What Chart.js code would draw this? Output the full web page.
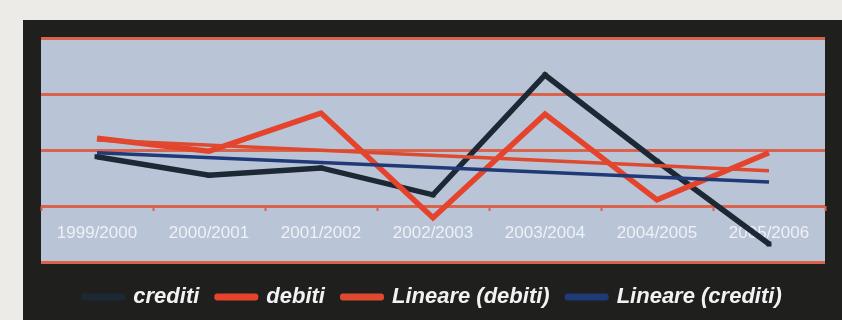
<!DOCTYPE html>
<html>
<head>
<meta charset="utf-8">
<script src="https://cdn.jsdelivr.net/npm/chart.js@4/dist/chart.umd.min.js"></script>
<style>
  html, body { margin: 0; padding: 0; background: #ecebe7; }
  canvas { display: block; }
</style>
</head>
<body>
<canvas id="grafico" width="842" height="320"></canvas>
<script>
// Stagioni e valori delle due serie
const stagioni = ['1999/2000', '2000/2001', '2001/2002', '2002/2003', '2003/2004', '2004/2005', '2005/2006'];
const crediti = [8.8, 5.5, 6.8, 2.0, 23.4, 8.0, -6.8];
const debiti = [12.1, 9.8, 16.6, -2.1, 16.4, 1.1, 9.5];
// Linee di tendenza: solo gli estremi, il tratto le unisce
const lineareDebiti = [11.8, null, null, null, null, null, 6.3];
const lineareCrediti = [9.5, null, null, null, null, null, 4.3];
// Scala verticale (nessuna etichetta mostrata)
const scalaMin = -10;
const scalaMax = 30;
const scalaPasso = 10;

const COL_CORNICE = '#1f201e';
const COL_SFONDO = '#ecebe7';
const COL_AREA = '#b9c5d6';
const COL_GRIGLIA = '#d9634d';

Chart.defaults.font.family = "'Liberation Sans', Arial, Helvetica, sans-serif";

// Sfondo chiaro, cornice scura e area del grafico azzurra
const sfondi = {
  id: 'sfondi',
  beforeDraw(chart) {
    const { ctx, chartArea: a } = chart;
    ctx.save();
    ctx.fillStyle = COL_SFONDO;
    ctx.fillRect(0, 0, chart.width, chart.height);
    ctx.fillStyle = COL_CORNICE;
    ctx.fillRect(23, 20, chart.width - 23, chart.height - 20);
    ctx.fillStyle = COL_AREA;
    ctx.fillRect(a.left, a.top, a.right - a.left, a.bottom - a.top);
    ctx.restore();
  }
};

new Chart(document.getElementById('grafico'), {
  type: 'line',
  data: {
    labels: stagioni,
    datasets: [
      {
        label: 'crediti',
        data: crediti,
        borderColor: '#1c2833',
        backgroundColor: '#1c2833',
        borderWidth: 5.5,
        pointStyle: 'rect',
        pointRadius: 3.5,
        pointBorderWidth: 0,
        borderJoinStyle: 'miter',
        tension: 0,
        order: 3
      },
      {
        label: 'debiti',
        data: debiti,
        borderColor: '#e5432b',
        backgroundColor: '#e5432b',
        borderWidth: 5.5,
        pointRadius: 0,
        borderJoinStyle: 'miter',
        tension: 0,
        order: 2
      },
      {
        label: 'Lineare (debiti)',
        data: lineareDebiti,
        borderColor: '#de4a30',
        backgroundColor: '#de4a30',
        borderWidth: 3.5,
        pointRadius: 0,
        spanGaps: true,
        tension: 0,
        order: 1
      },
      {
        label: 'Lineare (crediti)',
        data: lineareCrediti,
        borderColor: '#203a78',
        backgroundColor: '#203a78',
        borderWidth: 3.5,
        pointRadius: 0,
        spanGaps: true,
        tension: 0,
        order: 0
      }
    ]
  },
  options: {
    responsive: false,
    animation: false,
    layout: {
      autoPadding: false,
      padding: { left: 41, top: 38, right: 17, bottom: 2 }
    },
    scales: {
      x: {
        position: { y: 0 },
        offset: true,
        border: { display: false },
        grid: {
          offset: true,
          drawOnChartArea: false,
          drawTicks: true,
          tickLength: 5,
          tickWidth: 2,
          tickColor: COL_GRIGLIA
        },
        ticks: {
          color: '#eef1f5',
          padding: 12,
          maxRotation: 0,
          autoSkip: false,
          font: { size: 17 }
        }
      },
      y: {
        min: scalaMin,
        max: scalaMax,
        border: { display: false },
        grid: {
          color: COL_GRIGLIA,
          lineWidth: 3,
          drawTicks: false
        },
        ticks: { display: false, stepSize: scalaPasso }
      }
    },
    plugins: {
      tooltip: { enabled: false },
      legend: {
        position: 'bottom',
        title: { display: true, text: '', font: { size: 6, lineHeight: 1 }, padding: 0 },
        labels: {
          color: '#f2f2f2',
          boxWidth: 38,
          boxHeight: 1,
          padding: 18,
          font: { size: 22, weight: 'bold', style: 'italic' },
          generateLabels(chart) {
            return chart.data.datasets.map((ds, i) => ({
              text: ds.label,
              fillStyle: ds.borderColor,
              strokeStyle: ds.borderColor,
              lineWidth: 6,
              lineJoin: 'round',
              fontColor: '#f2f2f2',
              hidden: false,
              datasetIndex: i
            }));
          }
        }
      }
    }
  },
  plugins: [sfondi]
});
</script>
</body>
</html>
